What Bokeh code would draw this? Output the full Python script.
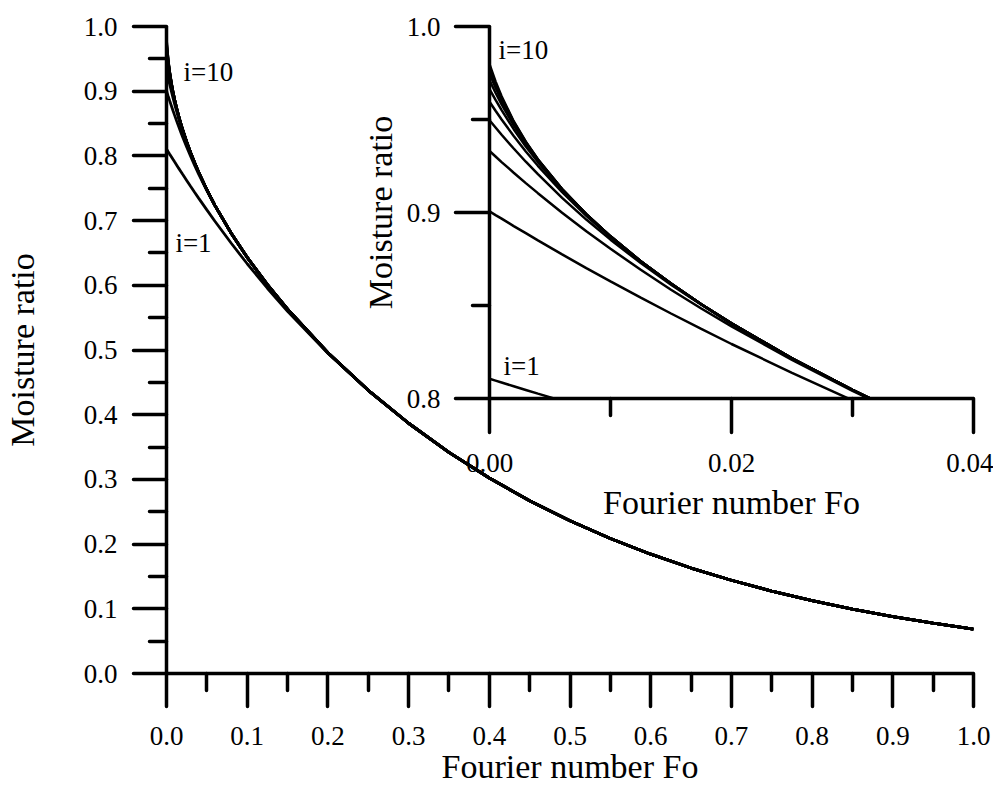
from bokeh.plotting import figure
from bokeh.models import Range1d, FixedTicker, Label
from bokeh.layouts import column
from bokeh.embed import file_html
from bokeh.resources import INLINE

FONT = "Liberation Serif"

# Fourier number sampling (shared by all curves)
FO_HEAD = [0.0, 0.0005, 0.001, 0.002, 0.003, 0.004, 0.006, 0.008, 0.010, 0.0125,
           0.015, 0.0175, 0.020, 0.025, 0.030, 0.035, 0.040, 0.050, 0.060, 0.080,
           0.100, 0.125, 0.150, 0.200]

# Moisture ratio for i = 1 .. 10 terms of the series
MR_1 = [0.8106, 0.8096, 0.8086, 0.8066, 0.8046, 0.8026, 0.7987, 0.7947, 0.7908, 0.7860,
        0.7811, 0.7763, 0.7715, 0.7621, 0.7527, 0.7435, 0.7344, 0.7165, 0.6990, 0.6654,
        0.6333, 0.5955, 0.5598, 0.4949]
MR_2 = [0.9006, 0.8986, 0.8967, 0.8927, 0.8889, 0.8850, 0.8775, 0.8701, 0.8630, 0.8542,
        0.8457, 0.8374, 0.8293, 0.8138, 0.7990, 0.7849, 0.7714, 0.7462, 0.7228, 0.6806,
        0.6431, 0.6011, 0.5631, 0.4959]
MR_3 = [0.9331, 0.9301, 0.9271, 0.9214, 0.9158, 0.9104, 0.8999, 0.8899, 0.8805, 0.8692,
        0.8585, 0.8484, 0.8388, 0.8207, 0.8041, 0.7887, 0.7742, 0.7477, 0.7236, 0.6808,
        0.6432, 0.6011, 0.5631, 0.4959]
MR_4 = [0.9496, 0.9457, 0.9418, 0.9344, 0.9273, 0.9206, 0.9079, 0.8962, 0.8854, 0.8728,
        0.8612, 0.8504, 0.8402, 0.8215, 0.8045, 0.7889, 0.7743, 0.7477, 0.7236, 0.6808,
        0.6432, 0.6011, 0.5631, 0.4959]
MR_5 = [0.9596, 0.9547, 0.9500, 0.9411, 0.9328, 0.9251, 0.9109, 0.8982, 0.8867, 0.8737,
        0.8617, 0.8507, 0.8404, 0.8216, 0.8046, 0.7889, 0.7743, 0.7477, 0.7236, 0.6808,
        0.6432, 0.6011, 0.5631, 0.4959]
MR_6 = [0.9663, 0.9605, 0.9550, 0.9448, 0.9355, 0.9271, 0.9120, 0.8989, 0.8871, 0.8738,
        0.8618, 0.8507, 0.8404, 0.8216, 0.8046, 0.7889, 0.7743, 0.7477, 0.7236, 0.6808,
        0.6432, 0.6011, 0.5631, 0.4959]
MR_7 = [0.9711, 0.9644, 0.9581, 0.9469, 0.9369, 0.9280, 0.9124, 0.8990, 0.8872, 0.8738,
        0.8618, 0.8507, 0.8404, 0.8216, 0.8046, 0.7889, 0.7743, 0.7477, 0.7236, 0.6808,
        0.6432, 0.6011, 0.5631, 0.4959]
MR_8 = [0.9747, 0.9671, 0.9602, 0.9481, 0.9376, 0.9284, 0.9126, 0.8991, 0.8872, 0.8738,
        0.8618, 0.8507, 0.8404, 0.8216, 0.8046, 0.7889, 0.7743, 0.7477, 0.7236, 0.6808,
        0.6432, 0.6011, 0.5631, 0.4959]
MR_9 = [0.9775, 0.9691, 0.9616, 0.9487, 0.9379, 0.9285, 0.9126, 0.8991, 0.8872, 0.8738,
        0.8618, 0.8507, 0.8404, 0.8216, 0.8046, 0.7889, 0.7743, 0.7477, 0.7236, 0.6808,
        0.6432, 0.6011, 0.5631, 0.4959]
MR_10 = [0.9798, 0.9705, 0.9625, 0.9491, 0.9381, 0.9286, 0.9126, 0.8991, 0.8872, 0.8738,
         0.8618, 0.8507, 0.8404, 0.8216, 0.8046, 0.7889, 0.7743, 0.7477, 0.7236, 0.6808,
         0.6432, 0.6011, 0.5631, 0.4959]

# Long-time tail (all curves coincide)
FO_TAIL = [0.25, 0.30, 0.35, 0.40, 0.45, 0.50, 0.55, 0.60, 0.65, 0.70, 0.75, 0.80,
           0.85, 0.90, 0.95, 1.00]
MR_TAIL = [0.4377, 0.3868, 0.3418, 0.3021, 0.2670, 0.2360, 0.2087, 0.1844, 0.1630,
           0.1441, 0.1274, 0.1126, 0.0995, 0.0880, 0.0778, 0.0687]

CURVES = [MR_1, MR_2, MR_3, MR_4, MR_5, MR_6, MR_7, MR_8, MR_9, MR_10]

# Tick values and labels
MAIN_X_TICKS = [0.0, 0.1, 0.2, 0.3, 0.4, 0.5, 0.6, 0.7, 0.8, 0.9, 1.0]
MAIN_X_LABELS = ["0.0", "0.1", "0.2", "0.3", "0.4", "0.5", "0.6", "0.7", "0.8", "0.9", "1.0"]
MAIN_X_MINOR = [0.05, 0.15, 0.25, 0.35, 0.45, 0.55, 0.65, 0.75, 0.85, 0.95]
MAIN_Y_TICKS = [0.0, 0.1, 0.2, 0.3, 0.4, 0.5, 0.6, 0.7, 0.8, 0.9, 1.0]
MAIN_Y_LABELS = ["0.0", "0.1", "0.2", "0.3", "0.4", "0.5", "0.6", "0.7", "0.8", "0.9", "1.0"]
MAIN_Y_MINOR = [0.05, 0.15, 0.25, 0.35, 0.45, 0.55, 0.65, 0.75, 0.85, 0.95]
INSET_X_TICKS = [0.0, 0.02, 0.04]
INSET_X_LABELS = ["0.00", "0.02", "0.04"]
INSET_X_MINOR = [0.01, 0.03]
INSET_Y_TICKS = [0.8, 0.9, 1.0]
INSET_Y_LABELS = ["0.8", "0.9", "1.0"]
INSET_Y_MINOR = [0.85, 0.95]


def style_axis(ax, ticks, minor, labels, tick_out, minor_out, standoff, label_standoff):
    ax.ticker = FixedTicker(ticks=ticks, minor_ticks=minor)
    ax.major_label_overrides = dict(zip(ticks, labels))
    ax.axis_line_width = 3.5
    ax.axis_line_color = "black"
    ax.major_tick_line_width = 3.5
    ax.minor_tick_line_width = 3.5
    ax.major_tick_line_color = "black"
    ax.minor_tick_line_color = "black"
    ax.major_tick_line_cap = "round"
    ax.minor_tick_line_cap = "round"
    ax.major_tick_in = 0
    ax.major_tick_out = tick_out
    ax.minor_tick_in = 0
    ax.minor_tick_out = minor_out
    ax.major_label_text_font = FONT
    ax.major_label_text_font_size = "27px"
    ax.major_label_text_color = "black"
    ax.major_label_standoff = standoff
    ax.axis_label_text_font = FONT
    ax.axis_label_text_font_size = "34px"
    ax.axis_label_text_font_style = "normal"
    ax.axis_label_text_color = "black"
    ax.axis_label_standoff = label_standoff


def base(fig):
    fig.xgrid.visible = False
    fig.ygrid.visible = False
    fig.outline_line_color = None


def series_label(fig, x, y, text):
    fig.add_layout(Label(x=x, y=y, text=text, text_font=FONT, text_font_size="27px",
                         text_baseline="middle", text_align="left", text_color="black"))


MAIN_H = 790

# ---------------- main plot ----------------
p = figure(width=993, height=MAIN_H, x_range=Range1d(0, 1), y_range=Range1d(0, 1),
           output_backend="svg", toolbar_location=None,
           min_border_left=166, min_border_right=20, min_border_top=26, min_border_bottom=117,
           x_axis_label="Fourier number Fo", y_axis_label="Moisture ratio")
base(p)
p.background_fill_color = "white"
p.border_fill_color = "white"
style_axis(p.xaxis[0], MAIN_X_TICKS, MAIN_X_MINOR, MAIN_X_LABELS, 33, 17, 20, 0)
style_axis(p.yaxis[0], MAIN_Y_TICKS, MAIN_Y_MINOR, MAIN_Y_LABELS, 33, 17, 16, 40)

for mr in CURVES:
    p.line(FO_HEAD + FO_TAIL, mr + MR_TAIL, line_color="black", line_width=2.8)

series_label(p, 0.021, 0.929, "i=10")
series_label(p, 0.011, 0.666, "i=1")

# ---------------- inset ----------------
q = figure(width=670, height=528, x_range=Range1d(0, 0.04), y_range=Range1d(0.8, 1.0),
           output_backend="svg", toolbar_location=None,
           min_border_left=166, min_border_right=20, min_border_top=26, min_border_bottom=130,
           x_axis_label="Fourier number Fo", y_axis_label="Moisture ratio")
base(q)
q.background_fill_color = None
q.border_fill_color = None
style_axis(q.xaxis[0], INSET_X_TICKS, INSET_X_MINOR, INSET_X_LABELS, 34, 17, 21, 9)
style_axis(q.yaxis[0], INSET_Y_TICKS, INSET_Y_MINOR, INSET_Y_LABELS, 34, 17, 15, 5)

for mr in CURVES:
    q.line(FO_HEAD, mr, line_color="black", line_width=2.5)

series_label(q, 0.00074, 0.9871, "i=10")
series_label(q, 0.00116, 0.8177, "i=1")

q.margin = (-MAIN_H, 0, 0, 323)
p.margin = (0, 0, 0, 0)

layout = column(p, q, spacing=0)

open("out.html", "w").write(file_html(layout, INLINE))
